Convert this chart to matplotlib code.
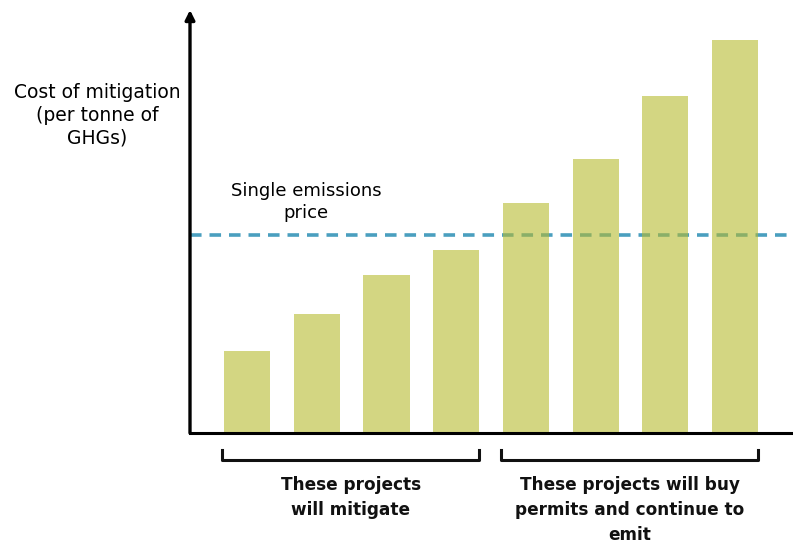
import numpy as np
import matplotlib.pyplot as plt

# project costs (arbitrary units)
projects = np.arange(8)
costs = [82, 119, 158, 183, 230, 274, 337, 393]
price = 198
groups = [(0, 3, "These projects\nwill mitigate"),
          (4, 7, "These projects will buy\npermits and continue to\nemit")]

bar_w = 0.66
fig = plt.figure(figsize=(7.93, 5.43), dpi=100)
ax = fig.add_axes([190 / 793, 110 / 543, 603 / 793, 423 / 543])

ax.axhline(price, color="#4A9FBF", lw=2.6, ls=(0, (3.2, 2.2)), zorder=1)
ax.bar(projects, costs, width=bar_w, color="#B6BB2F", alpha=0.6, zorder=2)

ax.set_xlim(-0.818, 7.83)
ax.set_ylim(0, 423)
ax.set_xticks([])
ax.set_yticks([])
for s in ["top", "right", "left"]:
    ax.spines[s].set_visible(False)
ax.spines["bottom"].set_linewidth(2.2)

# y axis arrow
ax.annotate("", xy=(-0.818, 423), xytext=(-0.818, 0),
            xycoords="data", annotation_clip=False,
            arrowprops=dict(arrowstyle="-|>", color="black", lw=2.4,
                            mutation_scale=14, shrinkA=0, shrinkB=0))

# brackets under groups
for a, b, txt in groups:
    x0 = a - bar_w / 2 - 0.03
    x1 = b + bar_w / 2
    ax.plot([x0, x0, x1, x1], [-17, -27, -27, -17], color="#111111",
            lw=2.2, clip_on=False, solid_joinstyle="round")
    ax.text((x0 + x1) / 2, -43, txt, ha="center", va="top", fontsize=12.2,
            fontweight="bold", linespacing=1.5, color="#111111")

fig.text(97 / 793, 1 - 83 / 543, "Cost of mitigation\n(per tonne of\nGHGs)",
         ha="center", va="top", fontsize=13.5, linespacing=1.25)
fig.text(306 / 793, 1 - 182 / 543, "Single emissions\nprice",
         ha="center", va="top", fontsize=13, linespacing=1.3)

fig.savefig("out.png", dpi=100)
